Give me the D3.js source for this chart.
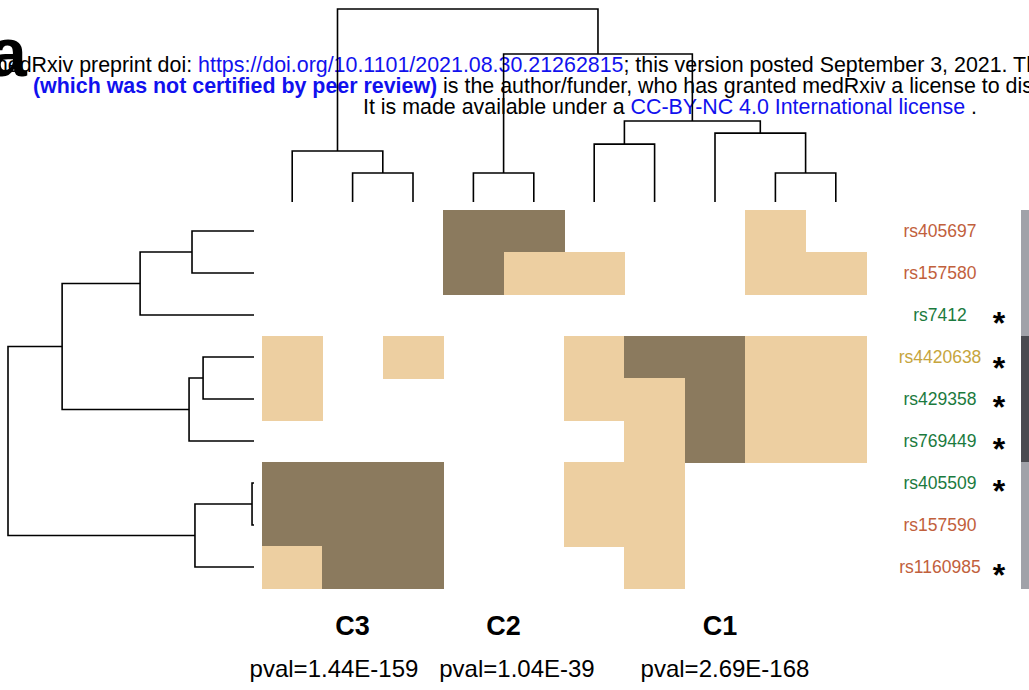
<!DOCTYPE html>
<html lang="en">
<head>
  <meta charset="UTF-8" />
  <title>SNP cluster heatmap</title>
  <script src="https://cdn.jsdelivr.net/npm/d3@7"></script>
  <style>
    body { margin: 0; background: #fff; }
    svg { display: block; font-family: "Liberation Sans", Arial, sans-serif; }
  </style>
</head>
<body>
<script>
  // ---- data ----
  var snps = ["rs405697", "rs157580", "rs7412", "rs4420638", "rs429358",
              "rs769449", "rs405509", "rs157590", "rs1160985"];
  var snpClass = ["orange", "orange", "green", "gold", "green",
                  "green", "green", "orange", "orange"];
  var snpStar = [0, 0, 1, 1, 1, 1, 1, 0, 1];
  var ldBlock = [0, 0, 0, 1, 1, 1, 0, 0, 0];

  // 0 = none, 1 = light, 2 = dark ; rows = snps, cols = 10 samples/groups
  var cells = [
    [0, 0, 0, 2, 2, 0, 0, 0, 1, 0],
    [0, 0, 0, 2, 1, 1, 0, 0, 1, 1],
    [0, 0, 0, 0, 0, 0, 0, 0, 0, 0],
    [1, 0, 1, 0, 0, 1, 2, 2, 1, 1],
    [1, 0, 0, 0, 0, 1, 1, 2, 1, 1],
    [0, 0, 0, 0, 0, 0, 1, 2, 1, 1],
    [2, 2, 2, 0, 0, 1, 1, 0, 0, 0],
    [2, 2, 2, 0, 0, 1, 1, 0, 0, 0],
    [1, 2, 2, 0, 0, 0, 1, 0, 0, 0]
  ];

  var clusters = ["C3", "C2", "C1"];
  var clusterCols = [[0, 2], [3, 4], [5, 9]];
  var pvals = ["pval=1.44E-159", "pval=1.04E-39", "pval=2.69E-168"];

  // dendrograms: h = merge height (0..1), c = children (leaf index or node)
  var colTree = {h: 1.0, c: [
    {h: 0.264, c: [0, {h: 0.150, c: [1, 2]}]},
    {h: 0.767, c: [
      {h: 0.150, c: [3, 4]},
      {h: 0.420, c: [
        {h: 0.300, c: [5, 6]},
        {h: 0.357, c: [7, {h: 0.150, c: [8, 9]}]}
      ]}
    ]}
  ]};
  var rowTree = {h: 1.0, c: [
    {h: 0.780, c: [
      {h: 0.463, c: [{h: 0.252, c: [0, 1]}, 2]},
      {h: 0.264, c: [{h: 0.207, c: [3, 4]}, 5]}
    ]},
    {h: 0.240, c: [{h: 0.008, c: [6, 7]}, 8]}
  ]};

  // ---- layout ----
  var w = 1029, h = 690;
  var svg = d3.select("body").append("svg")
    .attr("width", w)
    .attr("height", h);

  var xScale = d3.scaleBand().domain(d3.range(10)).range([262, 866]);
  var yScale = d3.scaleBand().domain(d3.range(9)).range([210, 588]);
  var topH = d3.scaleLinear().domain([0, 1]).range([202, 9]);
  var leftH = d3.scaleLinear().domain([0, 1]).range([254, 8]);
  var fill = d3.scaleOrdinal().domain([1, 2]).range(["#EDCFA1", "#8B7A5E"]);
  var labelColor = d3.scaleOrdinal()
    .domain(["orange", "green", "gold"])
    .range(["#C1603C", "#1B7A3E", "#C6A53D"]);
  var blockColor = d3.scaleOrdinal().domain([0, 1]).range(["#A1A2A9", "#4A4A50"]);

  // header stamp
  var head = svg.append("g").attr("font-size", 21.4);
  var l1 = head.append("text").attr("x", -10).attr("y", 72);
  l1.append("tspan").text("medRxiv preprint doi: ");
  l1.append("tspan").attr("fill", "#1111ee").text("https://doi.org/10.1101/2021.08.30.21262815");
  l1.append("tspan").text("; this version posted September 3, 2021. The copyright holder for this preprint");
  var l2 = head.append("text").attr("x", 33).attr("y", 93);
  l2.append("tspan").attr("fill", "#1111ee").attr("font-weight", "bold")
    .text("(which was not certified by peer review)");
  l2.append("tspan").text(" is the author/funder, who has granted medRxiv a license to display the preprint in perpetuity.");
  var l3 = head.append("text").attr("x", 363).attr("y", 114);
  l3.append("tspan").text("It is made available under a ");
  l3.append("tspan").attr("fill", "#1111ee").text("CC-BY-NC 4.0 International license");
  l3.append("tspan").text(" .");

  svg.append("text")
    .attr("x", -11).attr("y", 76)
    .attr("font-size", 68)
    .attr("font-weight", "bold")
    .text("a");

  // heatmap cells
  var cellData = [];
  cells.forEach(function(row, r) {
    row.forEach(function(v, c) {
      if (v > 0) cellData.push({r: r, c: c, v: v});
    });
  });

  svg.append("g")
    .attr("shape-rendering", "crispEdges")
    .selectAll("rect")
    .data(cellData)
    .enter()
    .append("rect")
    .attr("x", function(d) { return xScale(d.c); })
    .attr("y", function(d) { return yScale(d.r); })
    .attr("width", xScale.bandwidth() + 0.5)
    .attr("height", yScale.bandwidth() + 0.5)
    .attr("fill", function(d) { return fill(d.v); });

  // dendrogram segments
  function walk(node, segs) {
    if (typeof node === "number") return {p: node, h: 0, leaf: true};
    var a = walk(node.c[0], segs), b = walk(node.c[1], segs);
    segs.push({a: a, b: b, h: node.h});
    return {p: [a, b], h: node.h};
  }
  function center(n, band) {
    if (n.leaf) return band(n.p) + band.bandwidth() / 2;
    return (center(n.p[0], band) + center(n.p[1], band)) / 2;
  }

  var colSegs = [];
  walk(colTree, colSegs);
  var gTop = svg.append("g").attr("stroke", "#000").attr("stroke-width", 1.6).attr("fill", "none");
  colSegs.forEach(function(s) {
    var xa = center(s.a, xScale), xb = center(s.b, xScale), y = topH(s.h);
    gTop.append("path")
      .attr("d", "M" + xa + "," + topH(s.a.h) + "V" + y + "H" + xb + "V" + topH(s.b.h));
  });

  var rowSegs = [];
  walk(rowTree, rowSegs);
  var gLeft = svg.append("g").attr("stroke", "#000").attr("stroke-width", 1.6).attr("fill", "none");
  rowSegs.forEach(function(s) {
    var ya = center(s.a, yScale), yb = center(s.b, yScale), x = leftH(s.h);
    gLeft.append("path")
      .attr("d", "M" + leftH(s.a.h) + "," + ya + "H" + x + "V" + yb + "H" + leftH(s.b.h));
  });

  // row labels
  svg.append("g")
    .selectAll("text")
    .data(snps)
    .enter()
    .append("text")
    .attr("x", 940)
    .attr("y", function(d, i) { return yScale(i) + yScale.bandwidth() / 2; })
    .attr("dy", "0.35em")
    .attr("text-anchor", "middle")
    .attr("font-size", 17.5)
    .attr("fill", function(d, i) { return labelColor(snpClass[i]); })
    .text(function(d) { return d; });

  var starRows = d3.range(snps.length).filter(function(i) { return snpStar[i] === 1; });
  svg.append("g")
    .selectAll("text")
    .data(starRows)
    .enter()
    .append("text")
    .attr("x", 999)
    .attr("y", function(d) { return yScale(d) + yScale.bandwidth() / 2 + (d === 3 ? 22 : 19); })
    .attr("text-anchor", "middle")
    .attr("font-size", 32)
    .attr("font-weight", "bold")
    .text("*");

  // LD block bar
  svg.append("g")
    .attr("shape-rendering", "crispEdges")
    .selectAll("rect")
    .data(ldBlock)
    .enter()
    .append("rect")
    .attr("x", 1021)
    .attr("y", function(d, i) { return yScale(i); })
    .attr("width", 8)
    .attr("height", yScale.bandwidth() + 0.5)
    .attr("fill", function(d) { return blockColor(d); });

  // cluster labels
  var pvalX = [334, 517, 725];
  svg.append("g")
    .selectAll("text")
    .data(clusters)
    .enter()
    .append("text")
    .attr("x", function(d, i) {
      var span = clusterCols[i];
      return (xScale(span[0]) + xScale(span[1]) + xScale.bandwidth()) / 2 + (i === 2 ? 5 : 0);
    })
    .attr("y", 635)
    .attr("text-anchor", "middle")
    .attr("font-size", 27)
    .attr("font-weight", "bold")
    .text(function(d) { return d; });

  svg.append("g")
    .selectAll("text")
    .data(pvals)
    .enter()
    .append("text")
    .attr("x", function(d, i) { return pvalX[i]; })
    .attr("y", 677)
    .attr("text-anchor", "middle")
    .attr("font-size", 24)
    .text(function(d) { return d; });
</script>
</body>
</html>
